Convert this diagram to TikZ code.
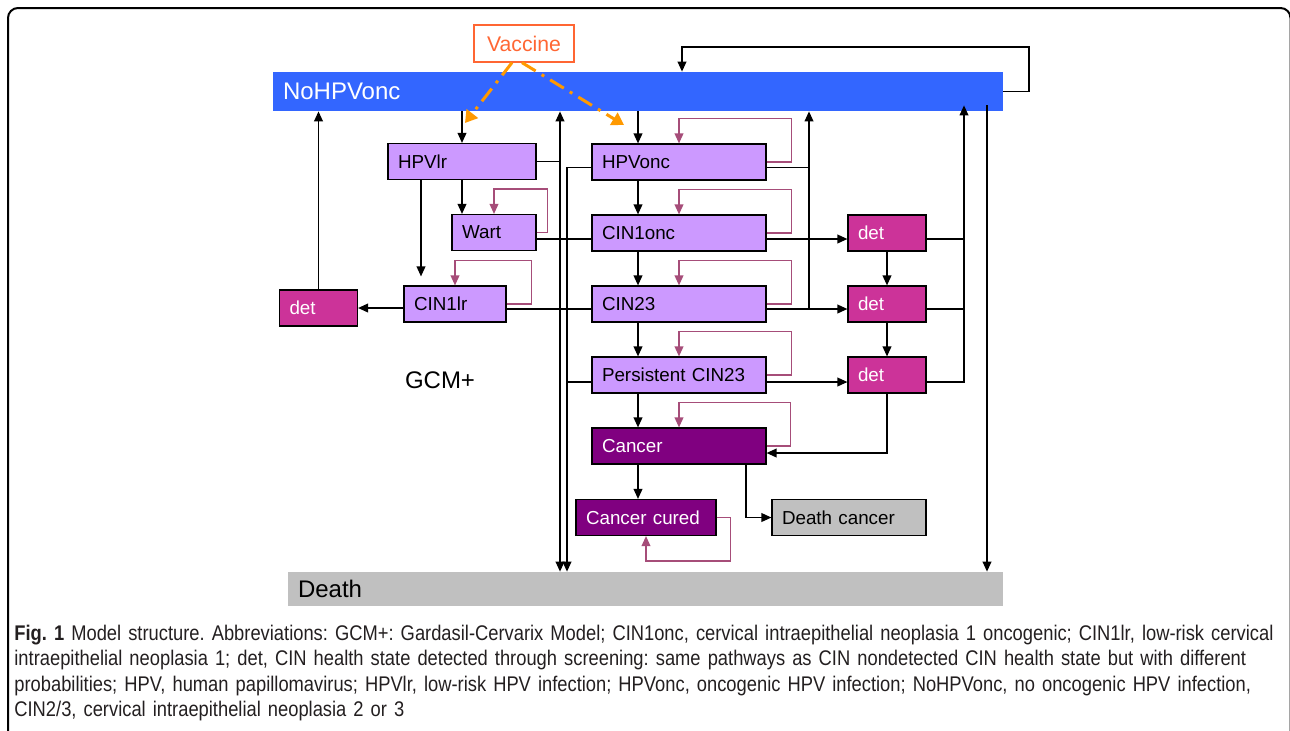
\documentclass[tikz,border=0pt]{standalone}
\usepackage{fontspec}
\setmainfont{Liberation Sans}
\newfontfamily\capfont[FakeStretch=0.865]{Liberation Sans}
\usetikzlibrary{arrows.meta}

\definecolor{barblue}{HTML}{3366FF}
\definecolor{lilac}{HTML}{CC99FF}
\definecolor{detpink}{HTML}{CC3399}
\definecolor{cancerpurple}{HTML}{800080}
\definecolor{deathgray}{HTML}{C0C0C0}
\definecolor{loopcol}{HTML}{A64D79}
\definecolor{vacorange}{HTML}{FF9900}
\definecolor{vacred}{HTML}{FF6633}
\definecolor{captext}{HTML}{231F20}

\begin{document}
\frenchspacing
\begin{tikzpicture}[x=0.5pt,y=-0.5pt,
  statebox/.style={draw=black, line width=0.6pt, fill=lilac, minimum height=18pt,
    inner xsep=5pt, inner ysep=0pt, align=left, text width=#1,
    font=\fontsize{9.4}{11}\selectfont},
  detbox/.style={statebox=29pt, fill=detpink, text=white},
  cancerbox/.style={statebox=#1, fill=cancerpurple, text=white},
  bar/.style={fill=#1, minimum height=18pt, inner xsep=5pt, inner ysep=0pt,
    align=left, font=\fontsize{12}{14}\selectfont},
  flow/.style={line width=0.65pt, -{Triangle[length=5pt,width=4.4pt]}},
  selfloop/.style={draw=loopcol, line width=0.65pt, -{Triangle[length=5pt,width=4.4pt]}},
  vacarrow/.style={draw=vacorange, line width=1.5pt,
    dash pattern=on 8pt off 3.5pt on 1.5pt off 3.5pt,
    -{Triangle[length=6pt,width=7pt,fill=vacorange]}}]
  \useasboundingbox (0,0) rectangle (1290,730);
  % Frame, cut off at the right and at the bottom
  \begin{scope}
    \clip (0,0) rectangle (1290,730);
    \draw[line width=1pt, rounded corners=5pt] (8,760) -- (8,8) -- (1290.5,8) -- (1290.5,760);
  \end{scope}

  % Bars
  \node[bar=barblue, text=white, minimum width=365pt, minimum height=19.5pt, text width=355pt] (nohpv) at (638,91.5) {NoHPVonc};
  \node[bar=deathgray, minimum width=357.5pt, minimum height=17pt, text width=347.5pt] (death) at (645.5,589) {Death};
  \node[draw=vacred, text=vacred, line width=0.6pt, minimum width=50pt, minimum height=18.5pt,
    font=\fontsize{10.6}{12}\selectfont] (vaccine) at (524,43.5) {Vaccine};
  \node[font=\fontsize{12}{14}\selectfont] (gcm) at (440,380) {GCM+};

  % Low-risk states
  \node[statebox=64pt] (hpvlr) at (462,161.5) {HPVlr};
  \node[statebox=32pt] (wart) at (494,232.5) {Wart};
  \node[statebox=41pt] (cinlr) at (455,304) {CIN1lr};
  \node[detbox] (detl) at (318.5,308) {det};

  % Oncogenic states
  \node[statebox=77pt] (hpvonc) at (679,162) {HPVonc};
  \node[statebox=77pt] (cinonc) at (679,233) {CIN1onc};
  \node[statebox=77pt] (cinhi) at (679,304) {CIN23};
  \node[statebox=77pt] (persist) at (679,375) {Persistent CIN23};
  \node[cancerbox=77pt] (cancer) at (679,446) {Cancer};
  \node[cancerbox=60pt] (cured) at (646,517.5) {Cancer cured};
  \node[statebox=67pt, fill=deathgray] (deathc) at (849,517.5) {Death cancer};
  \node[detbox] (detA) at (887,233) {det};
  \node[detbox] (detB) at (887,304) {det};
  \node[detbox] (detC) at (887,375) {det};

  % Bus lines and rows
  \coordinate (busA) at (560,0);
  \coordinate (busB) at (567,0);
  \coordinate (busC) at (809,0);
  \coordinate (busD) at (964,0);
  \coordinate (busE) at (987,0);
  \coordinate (colx) at (638,0);
  \coordinate (lrx) at (421,0);
  \coordinate (dcx) at (746,0);
  \coordinate (r1) at (0,167.5);
  \coordinate (r2) at (0,239);
  \coordinate (r3) at (0,309);
  \coordinate (r4) at (0,382);
  \coordinate (r6) at (0,453);
  \coordinate (topr) at (1029,47);
  \coordinate (topx) at (682,0);
  \coordinate (vacL) at (465,123);
  \coordinate (vacR) at (624,125);

  % Vaccine
  \draw[vacarrow] ([xshift=-6pt]vaccine.south) -- (vacL);
  \draw[vacarrow] ([xshift=-1pt]vaccine.south) -- (vacR);

  % Left group
  \draw[flow] (hpvlr.north |- nohpv.south) -- (hpvlr.north);
  \draw[flow] (hpvlr.south) -- (hpvlr.south |- wart.north);
  \draw[flow, shorten >=4.5pt] (lrx |- hpvlr.south) -- (lrx |- cinlr.north);
  \draw[flow] (cinlr.west |- detl.east) -- (detl.east);
  \draw[flow] (detl.north) -- (detl.north |- nohpv.south);
  \draw[line width=0.65pt] (hpvlr.east) -- (busA |- hpvlr.east);
  \draw[line width=0.65pt] (wart.east |- r2) -- (cinonc.west |- r2);
  \draw[line width=0.65pt] (cinlr.east |- r3) -- (cinhi.west |- r3);
  \draw[flow, {Triangle[length=5pt,width=4.4pt]}-{Triangle[length=5pt,width=4.4pt]}] (busA |- death.north) -- (busA |- nohpv.south);
  \draw[flow] (hpvonc.west |- r1) -| (busB |- death.north);
  \draw[line width=0.65pt] (persist.west |- r4) -- (busB |- r4);

  % Main column
  \draw[flow] (colx |- nohpv.south) -- (colx |- hpvonc.north);
  \foreach \a/\b in {hpvonc/cinonc, cinonc/cinhi, cinhi/persist, persist/cancer, cancer/cured}
    \draw[flow] (colx |- \a.south) -- (colx |- \b.north);
  \draw[flow] (dcx |- cancer.south) |- (deathc.west);

  % Right side
  \draw[line width=0.65pt] (hpvonc.east |- r1) -- (busC |- r1);
  \draw[flow] (busC |- r3) -- (busC |- nohpv.south);
  \draw[flow] (cinonc.east |- r2) -- (detA.west |- r2);
  \draw[flow] (cinhi.east |- r3) -- (detB.west |- r3);
  \draw[flow] (persist.east |- r4) -- (detC.west |- r4);
  \foreach \d/\r in {detA/r2, detB/r3}
    \draw[line width=0.65pt] (\d.east |- \r) -- (busD |- \r);
  \draw[flow] (detC.east |- r4) -| ([yshift=3pt]busD |- nohpv.south);
  \draw[flow] (detA) -- (detB);
  \draw[flow] (detB) -- (detC);
  \draw[flow] (detC.south) |- (cancer.east |- r6);
  \draw[flow] ([yshift=3pt]busE |- nohpv.south) -- (busE |- death.north);
  \draw[flow] (nohpv.east) -| (topr) -| (topx |- nohpv.north);

  % Self loops
  \foreach \b/\d in {wart/11, cinlr/25, hpvonc/25, cinonc/25, cinhi/25, persist/25, cancer/24}
    \draw[selfloop] (\b.east) -- ++(\d,0) |- ([yshift=12.5pt]\b.north) -- (\b.north);
  \draw[selfloop] (cured.east) -- ++(14,0) |- ([yshift=-12.5pt]cured.south) -- (cured.south);

  % Caption
  \node[anchor=north west, inner sep=0pt, text width=640pt, align=left, text=captext,
    font=\capfont\fontsize{10.6}{12.6}\selectfont] (caption) at (14,625)
    {\textbf{Fig. 1} Model structure. Abbreviations: GCM+: Gardasil-Cervarix Model; CIN1onc, cervical intraepithelial neoplasia 1 oncogenic; CIN1lr, low-risk cervical\\
    intraepithelial neoplasia 1; det, CIN health state detected through screening: same pathways as CIN nondetected CIN health state but with different\\
    probabilities; HPV, human papillomavirus; HPVlr, low-risk HPV infection; HPVonc, oncogenic HPV infection; NoHPVonc, no oncogenic HPV infection,\\
    CIN2/3, cervical intraepithelial neoplasia 2 or 3};
\end{tikzpicture}
\end{document}
